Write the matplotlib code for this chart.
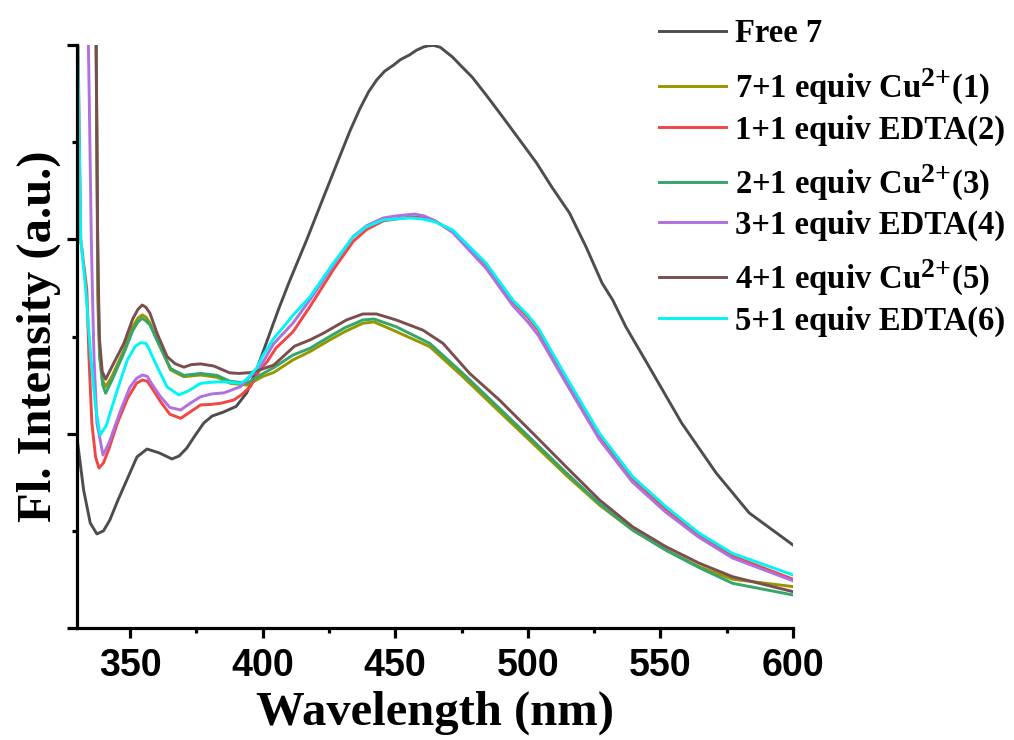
import matplotlib
matplotlib.use('Agg')
import matplotlib.pyplot as plt
from matplotlib.ticker import MultipleLocator, NullFormatter
try:
    import matplotlib._mathtext as _mt
    _mt.SHRINK_FACTOR = 0.85
except Exception:
    pass

plt.rcParams['mathtext.fontset'] = 'custom'
plt.rcParams['mathtext.rm'] = 'Liberation Serif:bold'
plt.rcParams['mathtext.bf'] = 'Liberation Serif:bold'
plt.rcParams['mathtext.it'] = 'Liberation Serif:bold'

# ---------------- data (wavelength nm, intensity a.u.) ----------------
wl_free7 = [330, 332.5, 335, 337.5, 340, 342.4, 345.5, 348.8, 352.6, 356.4, 361, 365.8, 368.5,
            371.4, 374.5, 377.8, 381, 385, 390, 394, 398, 402, 406, 410, 416.6, 423, 429,
            433, 436.6, 440, 443, 446, 449.4, 452, 455.4, 458, 460.7, 462.5, 464.5, 467,
            471.6, 475, 479, 485, 490.5, 497, 503.3, 509, 515.7, 522, 528,
            532, 537, 545.8, 558, 571, 583.5, 600]
int_free7 = [97.8, 71, 54, 48.4, 50, 55.6, 66, 76.2, 88.0, 92.1, 90.1, 87.0, 88.5,
             92.6, 99, 105.5, 109.1, 111, 114, 121, 134, 149, 164, 178, 199.7, 221.8, 242.4,
             256, 267, 276, 282.0, 286.5, 289.7, 292.5, 294.9, 297.3, 299.0, 299.6, 299.8, 298.8,
             293.8, 289, 283.5, 273, 263.0, 251, 239.3, 227, 213.6, 196, 177.5,
             168.8, 154.9, 134.3, 105.5, 79.8, 59.2, 42.7]

wl_cu1 = [330, 330.25, 336.8, 337.3, 337.8, 338.5, 339.5, 340.8, 343, 347.7, 351, 353, 354.6, 356,
          357.5, 360.2, 365.3, 370.3, 376.6, 382.8, 387.9, 394.1, 400.2, 404.2, 411.5, 417.8, 425.3,
          431, 437.8, 442, 450.4, 463, 475.5, 489.3, 501.9, 514.4, 527, 539.5, 552.1, 564.7,
          577.2, 600]
int_cu1 = [106, 600, 420, 300, 170, 140, 128, 124.2, 129, 143, 155, 159.5, 161.1, 160,
           157, 148.2, 132.8, 129.3, 130.2, 129, 125.9, 125, 129.5, 131.5, 138, 142.2, 148.2,
           152.5, 156.8, 157.5, 152.5, 144.8, 129.3, 111.3, 95, 78.7, 63.3, 50.4, 40.1, 31.5,
           25.1, 21.3]

wl_edta2 = [330, 331.4, 333.7, 334.5, 335.6, 337, 338.3, 340, 342, 345.2, 349, 352.5, 354.6, 356.5,
            358, 361.5, 365, 369.1, 372.5, 376.6, 380, 384.1, 389.1, 392, 395.4, 398.9, 401.7, 405,
            411.5, 417.8, 426.7, 434.2, 439.2, 445.5, 455.5, 461, 465, 471.7, 484.3, 494.3,
            500, 504, 514.4, 527, 539.5, 552.1, 564.7, 577.2, 600]
int_edta2 = [340, 200, 174, 139.5, 105.5, 88, 82.3, 85, 92, 105.3, 118, 126, 127.6, 127,
             124, 116.5, 110, 107.9, 111, 114.8, 115, 115.6, 117.3, 120, 124.2, 132.8, 137, 144,
             152.5, 165.3, 184.5, 199, 205, 209.5, 211.5, 211.5, 209.5, 204, 186.5, 168,
             160, 153, 128.3, 99.2, 76.8, 61.2, 47.5, 37, 25.1]

wl_cu3 = [330, 336.5, 337.2, 337.9, 338.6, 339.7, 340.8, 343, 347.7, 351, 353, 354.6, 356, 357.5,
          360.2, 365.3, 370.3, 376.6, 382.8, 387.6, 394.1, 400.2, 404.2, 411.5, 417.8, 425.3, 431,
          437.8, 442, 450.4, 463, 475.5, 489.3, 501.9, 514.4, 527, 539.5, 552.1, 564.7, 577.2, 600]
int_cu3 = [600, 330, 300, 180, 140, 125, 120.8, 127, 141.5, 153, 157.5, 159.4, 158, 156,
           148, 133.5, 130, 131, 130, 127, 126, 131, 134, 140.5, 143.9, 150, 154.5,
           158.5, 159, 155, 146.5, 131, 113, 96.5, 80, 64, 50.5, 40, 31, 23, 17]

wl_edta4 = [330, 334.2, 335.4, 335.8, 336.4, 337.5, 339.8, 342, 346.5, 350, 352.5, 354.6, 356.5,
            358, 361.5, 365, 369.1, 372.5, 376.6, 381, 385.4, 391.7, 395, 399.2, 404, 411.5,
            417.8, 426.7, 434.2, 439.2, 445.5, 450, 457.4, 461, 465, 471.7, 484.3, 494.3, 500,
            504, 514.4, 527, 539.5, 552.1, 564.7, 577.2, 600]
int_edta4 = [700, 310, 200, 174, 139.5, 105.5, 89.0, 95, 112.2, 124, 128.5, 130.2, 129.5,
             126, 119, 113.5, 112.2, 115.5, 119.0, 120.5, 121, 124.2, 129, 134.5, 146, 157,
             168.8, 187, 201.5, 207, 211, 212, 213, 212, 209.5, 203.5, 185, 166, 157.5,
             150.5, 126, 97, 75, 59.5, 46.5, 36, 24.3]

wl_cu5 = [330, 336.5, 337.2, 337.8, 338.4, 339.5, 340.8, 343, 347.7, 351, 353, 354.6, 356,
          357.5, 360.2, 364, 367, 370.3, 373, 376.6, 381.6, 387.6, 391, 395.4, 398.9, 404.2, 412,
          417.8, 422.8, 431.6, 437.8, 442.9, 450.4, 460.4, 468, 478, 489.3, 501.9, 514.4, 527,
          539.5, 552.1, 564.7, 577.2, 600]
int_cu5 = [600, 330, 300, 200, 150, 132, 128, 134, 146.5, 159, 164, 166.2, 165,
           162, 151.6, 139.6, 136, 134.2, 135.5, 135.9, 134.8, 131.3, 131, 131.4, 132.8, 135.3, 145,
           148.2, 151.6, 158.5, 161.6, 161.6, 158.5, 153.3, 146.5, 131.1, 117.3, 100.2, 83, 65.9,
           52.1, 41.8, 33.3, 26.4, 18.7]

wl_edta6 = [330, 331.4, 333.3, 335.2, 337, 338.7, 341, 345.2, 349, 352, 354, 356, 357, 360.2, 364,
            368.4, 372, 376.6, 381, 385.4, 391.7, 394, 397.9, 400, 404.2, 407.9, 411.5, 417.9, 426.7,
            434.2, 439.2, 445.5, 455.5, 460, 465, 471.7, 484.3, 494.3, 500, 504, 514.4, 527,
            539.5, 552.1, 564.7, 577.2, 600]
int_edta6 = [330, 200, 174, 139.5, 113.7, 99.3, 104, 122.5, 138, 145, 146.8, 146.5, 144, 134.5, 124,
             119.9, 122, 125.9, 126.5, 126.7, 125.9, 128, 134, 140, 149, 155, 161, 170.5, 187.8,
             201.4, 206.5, 210, 211, 210.5, 209, 204.8, 187.7, 168.8, 161, 154.2, 129.3, 100.2,
             77.9, 62.4, 48.7, 38.4, 27.3]

labels = ['Free 7',
          '7+1 equiv Cu$^{2{+}}$(1)',
          '1+1 equiv EDTA(2)',
          '2+1 equiv Cu$^{2{+}}$(3)',
          '3+1 equiv EDTA(4)',
          '4+1 equiv Cu$^{2{+}}$(5)',
          '5+1 equiv EDTA(6)']
colors = ['#4d4d4d', '#969600', '#f24545', '#35a66a', '#b070e0', '#7a4e4e', '#00f5f5']

xs = [wl_free7, wl_cu1, wl_edta2, wl_cu3, wl_edta4, wl_cu5, wl_edta6]
ys = [int_free7, int_cu1, int_edta2, int_cu3, int_edta4, int_cu5, int_edta6]

# ---------------- figure ----------------
W, H = 1014, 740
fig = plt.figure(figsize=(W / 100, H / 100), dpi=100)
ax = fig.add_axes([77 / W, (H - 628) / H, (793 - 77) / W, (628 - 45) / H])

handles = []
for x, y, c, lab in zip(xs, ys, colors, labels):
    h, = ax.plot(x, y, color=c, lw=2.1, label=lab)
    handles.append(h)

ax.set_xlim(330, 600)
ax.set_ylim(0, 300)
ax.xaxis.set_major_locator(MultipleLocator(50))
ax.xaxis.set_minor_locator(MultipleLocator(25))
ax.yaxis.set_major_locator(MultipleLocator(100))
ax.yaxis.set_minor_locator(MultipleLocator(50))
ax.yaxis.set_major_formatter(NullFormatter())

for s in ['top', 'right']:
    ax.spines[s].set_visible(False)
for s in ['left', 'bottom']:
    ax.spines[s].set_linewidth(2.3)

ax.tick_params(which='major', direction='out', length=7.5, width=2.3, pad=7)
ax.tick_params(which='minor', direction='out', length=3.8, width=2.3)
for lab in ax.get_xticklabels():
    lab.set_fontfamily('Liberation Sans')
    lab.set_fontweight('bold')
    lab.set_fontsize(27)

ax.set_xlabel('Wavelength (nm)', fontfamily='Liberation Serif', fontweight='bold',
              fontsize=35, labelpad=5)
ax.set_ylabel('Fl. Intensity (a.u.)', fontfamily='Liberation Serif', fontweight='bold',
              fontsize=35, labelpad=-3)

# legend: one row per entry, placed at the reference row positions
row_y = [31, 86, 127, 182, 222, 277, 318]
line_x0 = 660
legs = []
for h, lab, yy in zip(handles, labels, row_y):
    lg = fig.legend([h], [lab], loc='center left', bbox_to_anchor=(line_x0 / W, 1 - yy / H),
                    frameon=False, borderpad=0, borderaxespad=0, handlelength=2.05,
                    handletextpad=0.28,
                    prop={'family': 'Liberation Serif', 'weight': 'bold', 'size': 23.5})
    legs.append(lg)

fig.canvas.draw()
r = fig.canvas.get_renderer()
for lg, yy in zip(legs, row_y):
    ln = lg.get_lines()[0]
    bb = ln.get_window_extent(r)
    cy = 0.5 * (bb.y0 + bb.y1)
    dy = (H - yy) - cy
    dx = line_x0 - (bb.x0 + 1.3)
    lg.set_bbox_to_anchor(((line_x0 + dx) / W, 1 - yy / H + dy / H))

fig.savefig('out.png', dpi=100)
